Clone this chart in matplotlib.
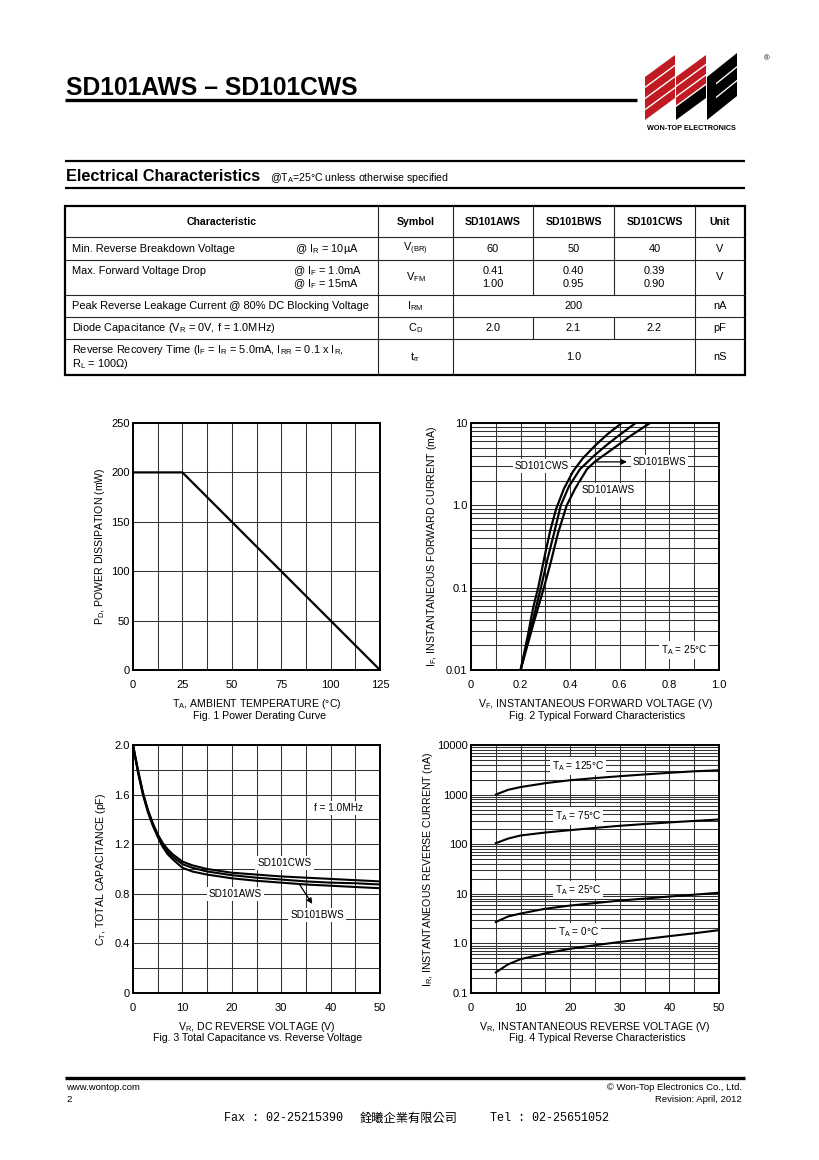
import numpy as np
import matplotlib
matplotlib.use('Agg')
import matplotlib.pyplot as plt
from matplotlib.patches import Polygon
from matplotlib.ticker import FixedLocator, NullFormatter, LogLocator

plt.rcParams['font.family'] = ['Liberation Sans', 'DejaVu Sans']
plt.rcParams['mathtext.fontset'] = 'custom'
plt.rcParams['mathtext.rm'] = 'Liberation Sans'
plt.rcParams['mathtext.it'] = 'Liberation Sans:italic'
plt.rcParams['mathtext.bf'] = 'Liberation Sans:bold'

# ---- data ----
# Fig 1: power derating
temp_c = [0, 25, 125]
power_mw = [200, 200, 0]

# Fig 2: forward characteristics (V, mA)
vf_c = [0.200, 0.230, 0.250, 0.271, 0.298, 0.320, 0.343, 0.375, 0.412, 0.450, 0.500, 0.550, 0.608]
if_c = [0.010, 0.027, 0.056, 0.100, 0.250, 0.500, 0.900, 1.600, 2.600, 3.700, 5.300, 7.300, 10.0]
vf_b = [0.200, 0.250, 0.282, 0.308, 0.335, 0.362, 0.395, 0.440, 0.500, 0.550, 0.600, 0.664]
if_b = [0.010, 0.041, 0.100, 0.220, 0.460, 1.000, 1.700, 2.760, 4.100, 5.500, 7.200, 10.0]
vf_a = [0.200, 0.250, 0.294, 0.321, 0.350, 0.386, 0.420, 0.468, 0.500, 0.600, 0.650, 0.722]
if_a = [0.010, 0.035, 0.100, 0.200, 0.450, 1.000, 1.600, 2.760, 3.400, 5.600, 7.200, 10.0]

# Fig 3: capacitance vs reverse voltage
vr_cap = [0, 1, 2, 3, 4, 5, 6, 7, 8, 10, 12, 15, 20, 25, 30, 35, 40, 45, 50]
cap_c = [2.0, 1.80, 1.62, 1.48, 1.37, 1.28, 1.21, 1.16, 1.12, 1.06, 1.03, 1.00, 0.97, 0.955, 0.94, 0.93, 0.92, 0.91, 0.90]
cap_b = [2.0, 1.79, 1.61, 1.47, 1.36, 1.27, 1.19, 1.14, 1.10, 1.04, 1.01, 0.98, 0.95, 0.93, 0.915, 0.90, 0.89, 0.885, 0.875]
cap_a = [2.0, 1.78, 1.60, 1.46, 1.35, 1.26, 1.18, 1.12, 1.08, 1.01, 0.98, 0.955, 0.925, 0.905, 0.89, 0.875, 0.865, 0.855, 0.845]

# Fig 4: reverse current (V, nA)
vr_rev = [5, 7.5, 10, 15, 20, 25, 30, 35, 40, 45, 50]
ir_125 = [1000, 1250, 1420, 1700, 1950, 2150, 2350, 2550, 2750, 2950, 3100]
ir_75 = [105, 130, 150, 172, 192, 213, 235, 255, 275, 295, 315]
ir_25 = [2.7, 3.5, 4.0, 5.0, 5.8, 6.5, 7.3, 8.0, 8.8, 9.6, 10.5]
ir_0 = [0.26, 0.38, 0.48, 0.63, 0.78, 0.92, 1.07, 1.22, 1.4, 1.6, 1.85]

# table
col_heads = ['Characteristic', 'Symbol', 'SD101AWS', 'SD101BWS', 'SD101CWS', 'Unit']
vbr = ['60', '50', '40']
vfm = ['0.41\n1.00', '0.40\n0.95', '0.39\n0.90']
cd = ['2.0', '2.1', '2.2']

W, H = 820, 1160
deg = '\u00b0'
fig = plt.figure(figsize=(8.2, 11.6), dpi=100)
fig.patch.set_facecolor('white')

ov = fig.add_axes([0, 0, 1, 1])
ov.set_xlim(0, W)
ov.set_ylim(H, 0)
ov.axis('off')


def px_axes(x0, y0, x1, y1):
    return fig.add_axes([x0 / W, 1 - y1 / H, (x1 - x0) / W, (y1 - y0) / H])


def hline(y, x0, x1, lw, c='black'):
    ov.plot([x0, x1], [y, y], color=c, lw=lw, solid_capstyle='butt')


def vline(x, y0, y1, lw, c='black'):
    ov.plot([x, x], [y0, y1], color=c, lw=lw, solid_capstyle='butt')


# ---- header ----
ov.text(66, 95, 'SD101AWS \u2013 SD101CWS', fontsize=17.7, fontweight='bold', va='baseline')
hline(100, 65, 637, 2.4)

# logo: slanted stripes
red = '#c01a22'


def stripe(x0, x1, ytl, rise, h, t0, t1, c):
    pts = [(x0, ytl + t0 * h), (x1, ytl - rise + t0 * h), (x1, ytl - rise + t1 * h), (x0, ytl + t1 * h)]
    ov.add_patch(Polygon(pts, closed=True, facecolor=c, edgecolor='none'))


for t0, t1 in [(0, 0.22), (0.26, 0.48), (0.52, 0.74), (0.78, 1.0)]:
    stripe(645, 675, 77, 22, 43, t0, t1, red)
for t0, t1 in [(0, 0.20), (0.24, 0.44), (0.48, 0.66)]:
    stripe(676, 706, 77, 22, 43, t0, t1, red)
stripe(676, 706, 77, 22, 43, 0.70, 1.0, 'black')
stripe(707, 737, 77, 24, 43, 0, 1.0, 'black')
for t0, t1 in [(0.30, 0.34), (0.62, 0.66)]:
    stripe(716, 737, 77 - 7, 17, 43, t0, t1, 'white')
ov.text(767, 59, '\u00ae', fontsize=5.5, ha='center', va='center')
ov.text(691, 128, 'WON-TOP ELECTRONICS', fontsize=5.2, fontweight='bold', ha='center', va='center')

# section title
hline(161, 65, 745, 1.6)
ov.text(66, 181, 'Electrical Characteristics', fontsize=11.7, fontweight='bold', va='baseline')
ov.text(270, 181, r'@T$_\mathrm{A}$=25' + deg + 'C unless otherwise specified', fontsize=7.6, va='baseline')
hline(188, 65, 745, 1.6)

# ---- table ----
tx0, tx1 = 65, 745
cols = [65, 378, 453, 533, 614, 695, 745]
rows = [206, 237, 260, 295, 317, 339, 375]
merged = {3, 5}
for y in rows[1:-1]:
    hline(y, tx0, tx1, 0.8, '0.15')
for x in cols[1:-1]:
    for r in range(len(rows) - 1):
        if r in merged and x in (533, 614):
            continue
        vline(x, rows[r], rows[r + 1], 0.8, '0.15')
ov.add_patch(plt.Rectangle((tx0, rows[0]), tx1 - tx0, rows[-1] - rows[0], fill=False, lw=1.6, ec='black'))

fs = 7.9
ccen = [(cols[i] + cols[i + 1]) / 2 for i in range(6)]
for i, h in enumerate(col_heads):
    ov.text(ccen[i], 222, h, fontsize=fs - 0.3, fontweight='bold', ha='center', va='center')

ov.text(72, 248.5, 'Min. Reverse Breakdown Voltage', fontsize=fs, va='center')
ov.text(295, 248.5, r'@ I$_\mathrm{R}$ = 10' + '\u00b5A', fontsize=fs, va='center')
ov.text(ccen[1], 248.5, r'V$_\mathrm{(BR)}$', fontsize=fs, ha='center', va='center')
for i, v in enumerate(vbr):
    ov.text(ccen[2 + i], 248.5, v, fontsize=fs, ha='center', va='center')
ov.text(ccen[5], 248.5, 'V', fontsize=fs, ha='center', va='center')

ov.text(72, 271, 'Max. Forward Voltage Drop', fontsize=fs, va='center')
ov.text(293, 271, r'@ I$_\mathrm{F}$ = 1.0mA', fontsize=fs, va='center')
ov.text(293, 284, r'@ I$_\mathrm{F}$ = 15mA', fontsize=fs, va='center')
ov.text(ccen[1], 277.5, r'V$_\mathrm{FM}$', fontsize=fs, ha='center', va='center')
for i, v in enumerate(vfm):
    a, b = v.split('\n')
    ov.text(ccen[2 + i], 271, a, fontsize=fs, ha='center', va='center')
    ov.text(ccen[2 + i], 284, b, fontsize=fs, ha='center', va='center')
ov.text(ccen[5], 277.5, 'V', fontsize=fs, ha='center', va='center')

ov.text(72, 306, 'Peak Reverse Leakage Current @ 80% DC Blocking Voltage', fontsize=fs, va='center')
ov.text(ccen[1], 306, r'I$_\mathrm{RM}$', fontsize=fs, ha='center', va='center')
ov.text(574, 306, '200', fontsize=fs, ha='center', va='center')
ov.text(ccen[5], 306, 'nA', fontsize=fs, ha='center', va='center')

ov.text(72, 328, r'Diode Capacitance (V$_\mathrm{R}$ = 0V, f = 1.0MHz)', fontsize=fs, va='center')
ov.text(ccen[1], 328, r'C$_\mathrm{D}$', fontsize=fs, ha='center', va='center')
for i, v in enumerate(cd):
    ov.text(ccen[2 + i], 328, v, fontsize=fs, ha='center', va='center')
ov.text(ccen[5], 328, 'pF', fontsize=fs, ha='center', va='center')

ov.text(72, 350, r'Reverse Recovery Time (I$_\mathrm{F}$ = I$_\mathrm{R}$ = 5.0mA, I$_\mathrm{RR}$ = 0.1 x I$_\mathrm{R}$,',
        fontsize=fs, va='center')
ov.text(72, 364, r'R$_\mathrm{L}$ = 100$\Omega$)', fontsize=fs, va='center')
ov.text(ccen[1], 357, r't$_\mathrm{rr}$', fontsize=fs, ha='center', va='center')
ov.text(574, 357, '1.0', fontsize=fs, ha='center', va='center')
ov.text(ccen[5], 357, 'nS', fontsize=fs, ha='center', va='center')

# ---- charts ----
gcol = '0.2'
tfs = 8
lfs = 7.6
box = dict(facecolor='white', edgecolor='none', pad=1.5)


def style(ax):
    for s in ax.spines.values():
        s.set_linewidth(1.4)
    ax.tick_params(which='both', length=0, labelsize=tfs)
    ax.tick_params(axis='x', pad=7)
    ax.tick_params(axis='y', pad=2.5)
    ax.grid(which='both', color=gcol, lw=0.75)
    ax.set_axisbelow(True)


# Fig 1
ax1 = px_axes(133, 423, 380, 670)
ax1.plot(temp_c, power_mw, color='black', lw=1.6)
ax1.set_xlim(0, 125)
ax1.set_ylim(0, 250)
ax1.set_xticks([0, 25, 50, 75, 100, 125])
ax1.xaxis.set_minor_locator(FixedLocator(np.arange(0, 126, 12.5)))
ax1.set_yticks([0, 50, 100, 150, 200, 250])
style(ax1)
ax1.set_xlabel(r'T$_\mathrm{A}$, AMBIENT TEMPERATURE (' + deg + 'C)', fontsize=lfs, labelpad=5)
ax1.set_ylabel(r'P$_\mathrm{D}$, POWER DISSIPATION (mW)', fontsize=lfs, labelpad=3)

# Fig 2
ax2 = px_axes(471, 423, 719, 670)
ax2.plot(vf_c, if_c, color='black', lw=1.6)
ax2.plot(vf_b, if_b, color='black', lw=1.6)
ax2.plot(vf_a, if_a, color='black', lw=1.6)
ax2.set_yscale('log')
ax2.set_xlim(0, 1.0)
ax2.set_ylim(0.01, 10)
ax2.set_xticks([0, 0.2, 0.4, 0.6, 0.8, 1.0])
ax2.set_xticklabels(['0', '0.2', '0.4', '0.6', '0.8', '1.0'])
ax2.xaxis.set_minor_locator(FixedLocator(np.arange(0, 1.01, 0.1)))
ax2.set_yticks([0.01, 0.1, 1, 10])
ax2.set_yticklabels(['0.01', '0.1', '1.0', '10'])
ax2.yaxis.set_minor_locator(LogLocator(base=10, subs=np.arange(2, 10)))
ax2.yaxis.set_minor_formatter(NullFormatter())
style(ax2)
ax2.text(0.285, 3.0, 'SD101CWS', fontsize=7.2, ha='center', va='center', bbox=box, zorder=4)
ax2.text(0.652, 3.37, 'SD101BWS', fontsize=7.2, ha='left', va='center', bbox=box, zorder=4)
ax2.annotate('', xy=(0.64, 3.37), xytext=(0.49, 3.37),
             arrowprops=dict(arrowstyle='-|>', color='black', lw=0.9, mutation_scale=8), zorder=5)
ax2.text(0.552, 1.55, 'SD101AWS', fontsize=7.2, ha='center', va='center', bbox=box, zorder=4)
ax2.text(0.859, 0.0174, r'T$_\mathrm{A}$ = 25' + deg + 'C', fontsize=7.2,
         ha='center', va='center', bbox=box, zorder=4)
ax2.set_xlabel(r'V$_\mathrm{F}$, INSTANTANEOUS FORWARD VOLTAGE (V)', fontsize=lfs, labelpad=5)
ax2.set_ylabel(r'I$_\mathrm{F}$, INSTANTANEOUS FORWARD CURRENT (mA)', fontsize=lfs, labelpad=5)

# Fig 3
ax3 = px_axes(133, 745, 380, 993)
ax3.plot(vr_cap, cap_c, color='black', lw=1.5)
ax3.plot(vr_cap, cap_b, color='black', lw=1.5)
ax3.plot(vr_cap, cap_a, color='black', lw=1.5)
ax3.set_xlim(0, 50)
ax3.set_ylim(0, 2.0)
ax3.set_xticks([0, 10, 20, 30, 40, 50])
ax3.xaxis.set_minor_locator(FixedLocator(np.arange(0, 51, 5)))
ax3.set_yticks([0, 0.4, 0.8, 1.2, 1.6, 2.0])
ax3.set_yticklabels(['0', '0.4', '0.8', '1.2', '1.6', '2.0'])
ax3.yaxis.set_minor_locator(FixedLocator(np.arange(0, 2.01, 0.2)))
style(ax3)
ax3.text(30.7, 1.048, 'SD101CWS', fontsize=7.2, ha='center', va='center', bbox=box, zorder=4)
ax3.text(20.7, 0.80, 'SD101AWS', fontsize=7.2, ha='center', va='center', bbox=box, zorder=4)
ax3.text(37.3, 0.63, 'SD101BWS', fontsize=7.2, ha='center', va='center', bbox=box, zorder=4)
ax3.annotate('', xy=(36.6, 0.70), xytext=(33.3, 0.90),
             arrowprops=dict(arrowstyle='-|>', color='black', lw=0.9, mutation_scale=8), zorder=5)
ax3.text(41.6, 1.49, 'f = 1.0MHz', fontsize=7.2, ha='center', va='center', bbox=box, zorder=4)
ax3.set_xlabel(r'V$_\mathrm{R}$, DC REVERSE VOLTAGE (V)', fontsize=lfs, labelpad=5)
ax3.set_ylabel(r'C$_\mathrm{T}$, TOTAL CAPACITANCE (pF)', fontsize=lfs, labelpad=4)

# Fig 4
ax4 = px_axes(471, 745, 719, 993)
for ir in (ir_125, ir_75, ir_25, ir_0):
    ax4.plot(vr_rev, ir, color='black', lw=1.5)
ax4.set_yscale('log')
ax4.set_xlim(0, 50)
ax4.set_ylim(0.1, 10000)
ax4.set_xticks([0, 10, 20, 30, 40, 50])
ax4.xaxis.set_minor_locator(FixedLocator(np.arange(0, 51, 5)))
ax4.set_yticks([0.1, 1, 10, 100, 1000, 10000])
ax4.set_yticklabels(['0.1', '1.0', '10', '100', '1000', '10000'])
ax4.yaxis.set_minor_locator(LogLocator(base=10, subs=np.arange(2, 10)))
ax4.yaxis.set_minor_formatter(NullFormatter())
style(ax4)
for lab, yy in [('125', 3776), ('75', 371), ('25', 11.9), ('0', 1.7)]:
    ax4.text(21.6, yy, r'T$_\mathrm{A}$ = ' + lab + deg + 'C', fontsize=7.2, ha='center', va='center',
             bbox=box, zorder=4)
ax4.set_xlabel(r'V$_\mathrm{R}$, INSTANTANEOUS REVERSE VOLTAGE (V)', fontsize=lfs, labelpad=5)
ax4.set_ylabel(r'I$_\mathrm{R}$, INSTANTANEOUS REVERSE CURRENT (nA)', fontsize=lfs, labelpad=1)

# captions
ov.text(260, 716, 'Fig. 1 Power Derating Curve', fontsize=lfs, ha='center', va='center')
ov.text(597, 716, 'Fig. 2 Typical Forward Characteristics', fontsize=lfs, ha='center', va='center')
ov.text(258, 1038, 'Fig. 3 Total Capacitance vs. Reverse Voltage', fontsize=lfs, ha='center', va='center')
ov.text(597, 1038, 'Fig. 4 Typical Reverse Characteristics', fontsize=lfs, ha='center', va='center')

# ---- footer ----
hline(1078, 65, 745, 2.4)
ov.text(66, 1088, 'www.wontop.com', fontsize=6.8, va='center')
ov.text(66, 1099, '2', fontsize=6.8, va='center')
ov.text(742, 1088, '\u00a9 Won-Top Electronics Co., Ltd.', fontsize=6.8, ha='right', va='center')
ov.text(742, 1099, 'Revision: April, 2012', fontsize=6.8, ha='right', va='center')
mono = ['Liberation Mono', 'Noto Sans CJK TC']
ov.text(224, 1118, 'Fax : 02-25215390', fontsize=8.5, family=mono, va='center')
ov.text(360, 1118, '\u9293\u66e6\u4f01\u696d\u6709\u9650\u516c\u53f8', fontsize=8.8,
        family=['Noto Sans CJK TC'], va='center')
ov.text(490, 1118, 'Tel : 02-25651052', fontsize=8.5, family=mono, va='center')

fig.savefig('out.png', dpi=100)
